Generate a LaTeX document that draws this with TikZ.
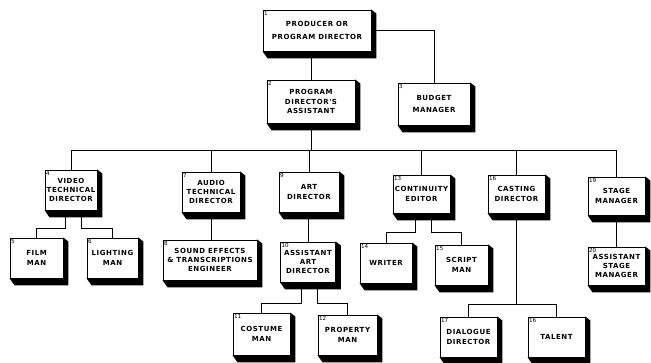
\documentclass[tikz,border=0pt]{standalone}
\usepackage{fontspec}
\newfontfamily\chartfont{DejaVu Sans}[LetterSpace=8]
\newfontfamily\tagnumfont{DejaVu Sans}
\usetikzlibrary{backgrounds}

\tikzset{
  unit/.style={draw, line width=0.8pt, fill=white, align=center, inner sep=1pt,
    font=\chartfont\bfseries\fontsize{7}{8.6}\selectfont, minimum height=40},
  tagfont/.style={font=\tagnumfont\fontsize{5.6}{5.6}\selectfont, inner sep=1.2pt, anchor=north west},
  tagno/.style={label={[tagfont]north west:#1}},
  link/.style={line width=0.6pt}
}

\begin{document}
\begin{tikzpicture}[x=1pt, y=-1pt]
    \useasboundingbox (0,0) rectangle (651,362);

    % top of the chart
    \node[unit, tagno=1, minimum width=108, minimum height=41] (n1) at (317,30.5) {PRODUCER OR\\[4pt]PROGRAM DIRECTOR};
    \node[unit, tagno=2, minimum width=88, minimum height=43] (n2) at (311,101.5) {PROGRAM\\[1pt]DIRECTOR'S\\[1pt]ASSISTANT};
    \node[unit, tagno=3, minimum width=72, minimum height=42] (n3) at (434,104) {BUDGET\\[3pt]MANAGER};

    % second row
    \node[unit, tagno=4, minimum width=52] (n4) at (71,190) {VIDEO\\TECHNICAL\\DIRECTOR};
    \node[unit, tagno=7, minimum width=58] (n7) at (211,192) {AUDIO\\TECHNICAL\\DIRECTOR};
    \node[unit, tagno=9, minimum width=60] (n9) at (309,192) {ART\\[2pt]DIRECTOR};
    \node[unit, tagno=13, minimum width=57, minimum height=38] (n13) at (421.5,194) {CONTINUITY\\[2pt]EDITOR};
    \node[unit, tagno=16, minimum width=57, minimum height=38] (n16) at (516.5,194) {CASTING\\[2pt]DIRECTOR};
    \node[unit, tagno=19, minimum width=57, minimum height=38] (n19) at (616.5,196) {STAGE\\[2pt]MANAGER};

    % third row
    \node[unit, tagno=5, minimum width=53] (n5) at (36.5,258) {FILM\\[2pt]MAN};
    \node[unit, tagno=6, minimum width=51] (n6) at (112.5,258) {LIGHTING\\[2pt]MAN};
    \node[unit, tagno=8, minimum width=94] (n8) at (210,260) {SOUND EFFECTS\\\& TRANSCRIPTIONS\\ENGINEER};
    \node[unit, tagno=10, minimum width=55] (n10) at (308,262) {ASSISTANT\\ART\\DIRECTOR};
    \node[unit, tagno=14, minimum width=52] (n14) at (386,263) {WRITER};
    \node[unit, tagno=15, minimum width=53] (n15) at (461.5,265) {SCRIPT\\[2pt]MAN};
    \node[unit, tagno=20, minimum width=57, minimum height=38] (n20) at (616.5,266) {ASSISTANT\\STAGE\\MANAGER};

    % bottom row
    \node[unit, tagno=11, minimum width=57, minimum height=42] (n11) at (261.5,334) {COSTUME\\[2pt]MAN};
    \node[unit, tagno=12, minimum width=59] (n12) at (347.5,335) {PROPERTY\\[2pt]MAN};
    \node[unit, tagno=17, minimum width=57] (n17) at (468.5,337) {DIALOGUE\\[2pt]DIRECTOR};
    \node[unit, tagno=16, minimum width=57] (n18) at (556.5,337) {TALENT};

    % raised box look
    \begin{scope}[on background layer]
      \foreach \n in {n1,n2,n3,n4,n7,n9,n13,n16,n19,n5,n6,n8,n10,n14,n15,n20,n11,n12,n17,n18}
        \fill (\n.north east) -- ([shift={(5,4)}]\n.north east) -- ([shift={(5,7)}]\n.south east)
          -- ([shift={(5,7)}]\n.south west) -- (\n.south west) -- cycle;
    \end{scope}

    % connectors
    \draw[link] (n2.north) -- (n2.north |- n1.south);
    \draw[link] (n1.east) -| (n3.north);
    \draw[link] (n2.south) -- ++(0,27) coordinate (bus);
    \draw[link] (n4.north) |- (bus) -| (n19.north);
    \draw[link] (n7.north) -- (n7.north |- bus);
    \draw[link] (n9.north) -- (n9.north |- bus);
    \draw[link] (n13.north) -- (n13.north |- bus);
    \draw[link] (n16.north) -- (n16.north |- bus);

    \draw[link] ([xshift=-6]n4.south) -- ++(0,18) -| (n5.north);
    \draw[link] ([xshift=10]n4.south) -- ++(0,18) -| (n6.north);
    \draw[link] (n7.south) -- (n7.south |- n8.north);
    \draw[link] (n10.north |- n9.south) -- (n10.north);
    \draw[link] ([xshift=-7]n10.south) -- ++(0,21) -| (n11.north);
    \draw[link] ([xshift=9]n10.south) -- ++(0,21) -| (n12.north);
    \draw[link] ([xshift=-6]n13.south) -- ++(0,19) -| (n14.north);
    \draw[link] ([xshift=10]n13.south) -- ++(0,19) -| (n15.north);
    \draw[link] (n16.south) -- ++(0,91) coordinate (cast);
    \draw[link] (n17.north) |- (cast) -| (n18.north);
    \draw[link] (n19.south) -- (n20.north);
\end{tikzpicture}
\end{document}
